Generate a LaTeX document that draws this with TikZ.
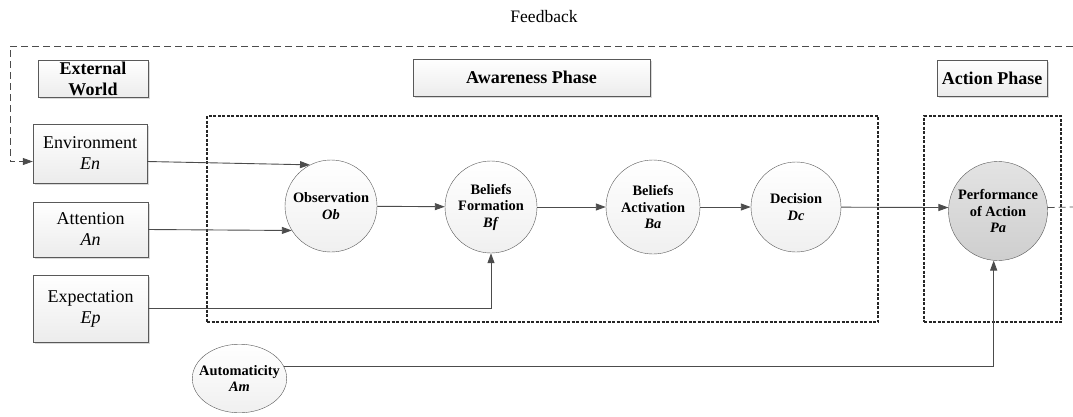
\documentclass[tikz,border=0pt]{standalone}
\usepackage{fontspec}
\setmainfont{Liberation Serif}
\usetikzlibrary{arrows.meta,shadows,shapes.geometric}

\begin{document}
\begin{tikzpicture}[x=1pt,y=-1pt,
  box/.style={draw=gray!70!black,rectangle,align=center,top color=white,bottom color=gray!15,
    drop shadow={shadow xshift=1.5pt,shadow yshift=-1.5pt,opacity=0.3},
    font=\fontsize{18}{21}\selectfont,inner sep=0pt},
  title/.style={box,font=\fontsize{18}{21}\selectfont\bfseries},
  proc/.style={draw=gray!70!black,circle,align=center,top color=white,bottom color=gray!12,
    font=\fontsize{14.4}{16.5}\selectfont\bfseries,inner sep=0pt},
  phase/.style={draw=black!85,line width=1.8pt,dash pattern=on 3pt off 1.5pt,inner sep=0pt},
  link/.style={draw=gray!60!black,line width=0.9pt,-{Triangle[length=10pt,width=7pt]}},
  fbline/.style={draw=gray!60!black,line width=0.8pt,dash pattern=on 7pt off 4pt}]
\useasboundingbox (0,0) rectangle (1073,416);
\node[font=\fontsize{17.5}{21}\selectfont] (fb) at (544,17) {Feedback};
\node[title,minimum width=110,minimum height=37] (ext) at (93,78.5) {External\\World};
\node[title,minimum width=237,minimum height=37] (awp) at (531.5,77.5) {Awareness Phase};
\node[title,minimum width=110,minimum height=36] (acp) at (992,78) {Action Phase};
\node[phase,minimum width=671,minimum height=206] (awbox) at (542.5,219) {};
\node[phase,minimum width=137,minimum height=206] (acbox) at (992.5,219) {};
\node[box,minimum width=114,minimum height=59] (En) at (90,153.5) {Environment\\\textit{En}};
\node[box,minimum width=115,minimum height=55] (An) at (90.5,229.5) {Attention\\\textit{An}};
\node[box,minimum width=115,minimum height=67] (Ep) at (90.5,308.5) {Expectation\\\textit{Ep}};
\node[proc,minimum size=92] (Ob) at (331,206) {Observation\\\textit{Ob}};
\node[proc,minimum size=92] (Bf) at (491,207) {Beliefs\\Formation\\\textit{Bf}};
\node[proc,minimum size=94] (Ba) at (653,207) {Beliefs\\Activation\\\textit{Ba}};
\node[proc,minimum size=90] (Dc) at (796,207) {Decision\\\textit{Dc}};
\node[proc,minimum size=99,top color=gray!22,bottom color=gray!38] (Pa) at (998,211) {Performance\\of Action\\\textit{Pa}};
\node[proc,shape=ellipse,inner xsep=-7pt,inner ysep=11pt] (Am) at (239.5,378.5) {Automaticity\\\textit{Am}};
\coordinate (fbL) at (10,46);
\coordinate (fbR) at (1073,46);
\coordinate (fbE) at (1073,207);
\draw[link] ([yshift=-8pt]En.east) -- (Ob.117);
\draw[link] (An.east) -- (Ob.212);
\draw[link] (Ob) -- (Bf);
\draw[link] (Bf) -- (Ba);
\draw[link] (Ba) -- (Dc);
\draw[link] (Dc) -- (Pa.176);
\draw[link] (Ep.east) -| (Bf.south);
\draw[link] (Am.15) -| (Pa.265);
\draw[fbline,-{Triangle[length=10pt,width=7pt]}] (fbR) -- (fbL) |- ([yshift=-8pt]En.west);
\draw[fbline] (Pa.4) -- (fbE);
\end{tikzpicture}
\end{document}
